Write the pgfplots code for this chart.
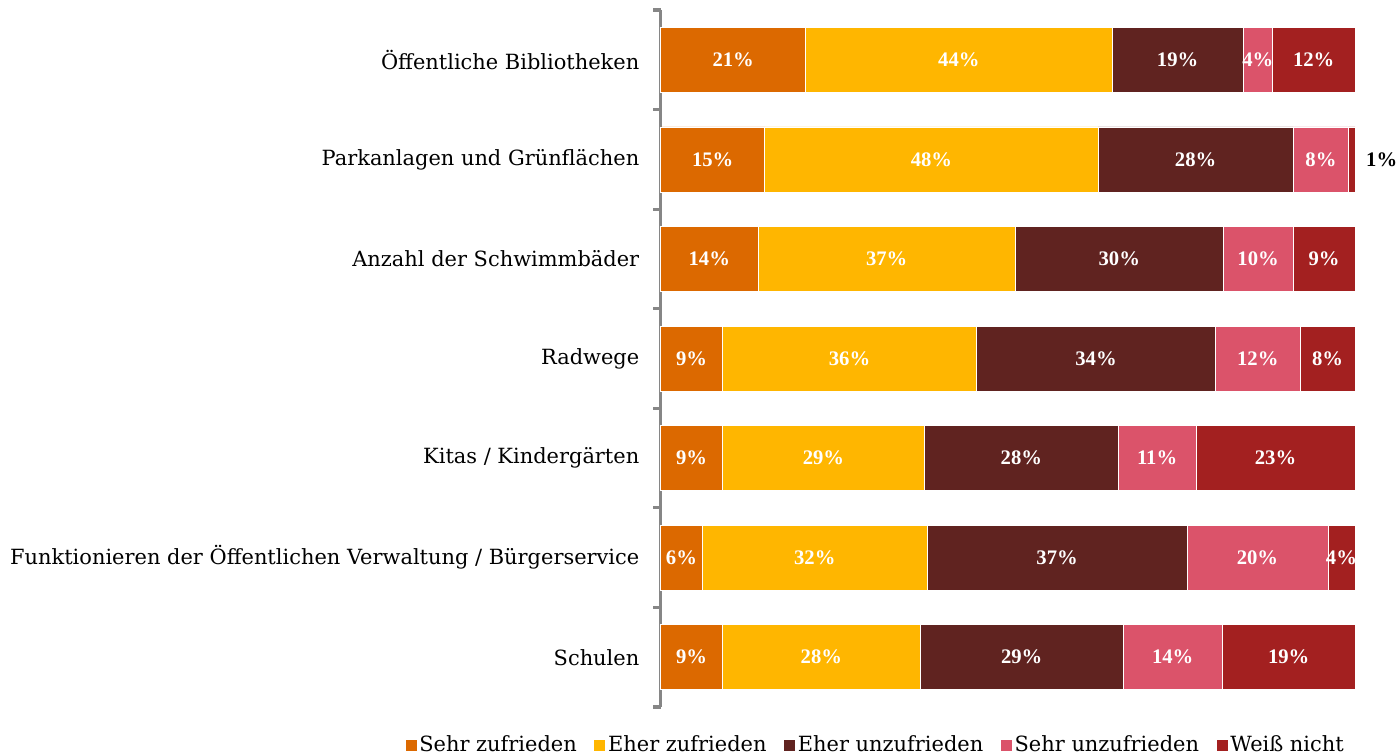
\documentclass[border=0pt]{standalone}
\usepackage{fontspec}
\setmainfont{DejaVu Serif}
\newfontfamily\labfont{Liberation Serif}
\usepackage{pgfplots}
\pgfplotsset{compat=1.18}
\definecolor{cA}{HTML}{DC6900}
\definecolor{cB}{HTML}{FFB600}
\definecolor{cC}{HTML}{602320}
\definecolor{cD}{HTML}{DB536A}
\definecolor{cE}{HTML}{A32020}
\definecolor{axgray}{HTML}{868686}
\begin{document}
\begin{tikzpicture}
\useasboundingbox (0,0) rectangle (1049.25pt,567pt);
\begin{axis}[
  at={(495.5pt,36.75pt)}, anchor=south west,
  scale only axis, width=520.75pt, height=522.75pt,
  xbar stacked, bar width=48.75pt,
  xmin=0, xmax=100, ymin=0.5, ymax=7.5, y dir=reverse,
  axis x line=none, axis y line*=left,
  separate axis lines,
  axis line style={draw=axgray, line width=2.4pt, -},
  y axis line style={draw=axgray, line width=2.4pt, -},
  ytick={1,...,7},
  yticklabels={Öffentliche Bibliotheken, Parkanlagen und Grünflächen, Anzahl der Schwimmbäder, Radwege, Kitas / Kindergärten, Funktionieren der Öffentlichen Verwaltung / Bürgerservice, Schulen},
  major tick length=0pt,
  minor ytick={0.5,1.5,...,7.5}, minor tick length=5.6pt,
  tick align=outside,
  tick style={draw=axgray, line width=2.4pt},
  minor tick style={draw=axgray, line width=2.4pt},
  yticklabel style={font=\fontsize{15.7}{18}\selectfont, anchor=east, xshift=-12.5pt, text=black},
  clip=false,
  point meta=explicit symbolic,
  nodes near coords={\pgfplotspointmeta},
  every node near coord/.append style={font=\labfont\fontsize{15.5}{17}\selectfont\bfseries, text=white, anchor=center},
  legend columns=5,
  legend style={at={(0.309,-0.0545)}, anchor=center, draw=none, fill=none,
    font=\fontsize{15.7}{18}\selectfont,
    /tikz/every even column/.append style={column sep=11pt},
    nodes={inner sep=1.5pt}},
  legend image code/.code={\fill[#1] (0pt,-4.5pt) rectangle (9pt,4.5pt);},
  every axis plot/.append style={draw=white, line width=0.5pt},
]
\addplot[fill=cA] coordinates {(20.9,1) [21\%] (15.0,2) [15\%] (14.0,3) [14\%] (8.9,4) [9\%] (8.9,5) [9\%] (6.0,6) [6\%] (8.9,7) [9\%]};
\addplot[fill=cB] coordinates {(44.1,1) [44\%] (48.0,2) [48\%] (37.1,3) [37\%] (36.6,4) [36\%] (29.1,5) [29\%] (32.4,6) [32\%] (28.5,7) [28\%]};
\addplot[fill=cC] coordinates {(18.9,1) [19\%] (28.1,2) [28\%] (29.9,3) [30\%] (34.4,4) [34\%] (27.9,5) [28\%] (37.4,6) [37\%] (29.2,7) [29\%]};
\addplot[fill=cD] coordinates {(4.2,1) [4\%] (8.0,2) [8\%] (10.1,3) [10\%] (12.2,4) [12\%] (11.2,5) [11\%] (20.3,6) [20\%] (14.3,7) [14\%]};
\addplot[fill=cE] coordinates {(11.9,1) [12\%] (0.9,2) [{}] (8.9,3) [9\%] (7.9,4) [8\%] (22.9,5) [23\%] (3.9,6) [4\%] (19.1,7) [19\%]};
\legend{Sehr zufrieden, Eher zufrieden, Eher unzufrieden, Sehr unzufrieden, Weiß nicht}
\node[font=\labfont\fontsize{15.5}{17}\selectfont\bfseries, text=black] at (axis cs:100,2) [xshift=20pt] {1\%};
\end{axis}
\end{tikzpicture}
\end{document}
